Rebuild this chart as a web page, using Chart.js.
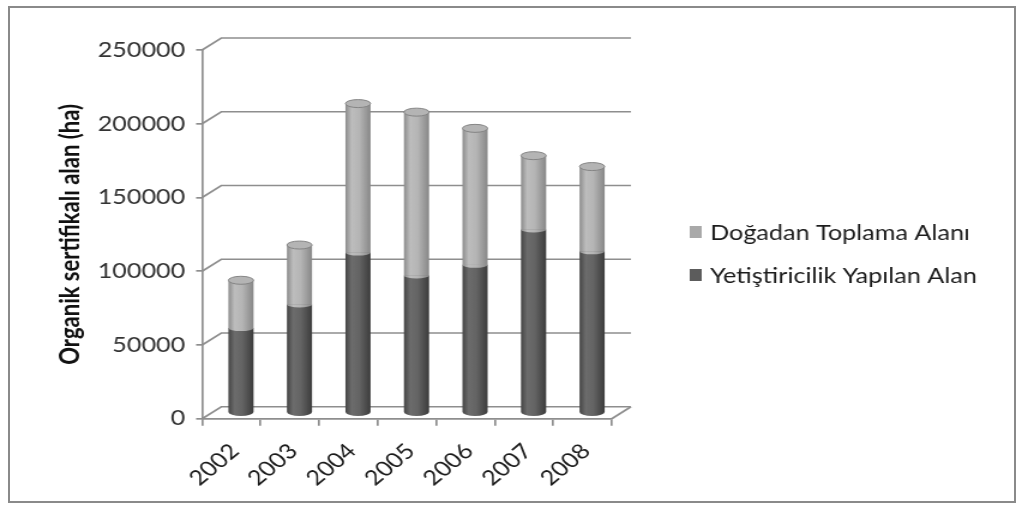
<!DOCTYPE html>
<html>
<head>
<meta charset="utf-8">
<script src="https://cdn.jsdelivr.net/npm/chart.js@4.4.1/dist/chart.umd.min.js"></script>
<style>
  html, body { margin: 0; padding: 0; background: #fff; }
  #wrap { position: relative; width: 1022px; height: 508px; overflow: hidden; }
  /* the chart is laid out narrower and stretched sideways to the page width */
  #chart { position: absolute; left: 0; top: 0; transform: scaleX(1.1995); transform-origin: 0 0; }
  #frame { position: absolute; left: 8px; top: 6px; width: 1004px; height: 493px; border: 2.5px solid #8a8a8a; }
</style>
</head>
<body>
<div id="wrap">
  <canvas id="chart" width="852" height="508"></canvas>
  <div id="frame"></div>
</div>
<script>
const years = ['2002', '2003', '2004', '2005', '2006', '2007', '2008'];
// Yetiştiricilik Yapılan Alan (ha)
const cultivated = [57400, 73400, 108600, 93100, 100300, 124300, 109400];
// Doğadan Toplama Alanı (ha)
const wildCollection = [32400, 40300, 101000, 110700, 92500, 50000, 57500];
const yTicks = [0, 50000, 100000, 150000, 200000, 250000];
const seriesNames = ['Yetiştiricilik Yapılan Alan', 'Doğadan Toplama Alanı'];
const axisTitle = 'Organik sertifikalı alan (ha)';

const DEPTH_X = 16;
const DEPTH_Y = -12;
const BAR_PCT = 0.43;
const GRID = '#8e8e8e';

const darkStops = [[0, '#454545'], [0.25, '#6c6c6c'], [0.55, '#646464'], [1, '#3c3c3c']];
const lightStops = [[0, '#8c8c8c'], [0.25, '#bdbdbd'], [0.55, '#b5b5b5'], [1, '#878787']];
const swatches = ['#5c5c5c', '#a9a9a9'];

function cylinderFill(ctx, cx, w, stops) {
    const g = ctx.createLinearGradient(cx - w / 2, 0, cx + w / 2, 0);
    stops.forEach(([o, c]) => g.addColorStop(o, c));
    return g;
}

function barFill(c, stops) {
    const chart = c.chart;
    const x = chart.scales.x;
    if (!x || !chart.chartArea || c.type !== 'data') return stops[1][1];
    const w = (chart.chartArea.right - chart.chartArea.left) / years.length * BAR_PCT;
    return cylinderFill(chart.ctx, x.getPixelForValue(c.dataIndex), w, stops);
}

function halfEllipse(ctx, x, y, rx, ry, fill) {
    ctx.beginPath();
    ctx.ellipse(x, y, rx, ry, 0, 0, Math.PI);
    ctx.closePath();
    ctx.fillStyle = fill;
    ctx.fill();
}

// back wall, floor edge and the cylinder ends
const wall3d = {
    id: 'wall3d',
    beforeDatasetsDraw(chart) {
        const { ctx, chartArea: a, scales: { y } } = chart;
        ctx.save();
        ctx.strokeStyle = GRID;
        ctx.lineWidth = 1.7;
        yTicks.forEach(v => {
            const py = y.getPixelForValue(v);
            ctx.beginPath();
            ctx.moveTo(a.left, py);
            ctx.lineTo(a.left + DEPTH_X, py + DEPTH_Y);
            ctx.lineTo(a.right + DEPTH_X, py + DEPTH_Y);
            ctx.stroke();
        });
        ctx.beginPath();
        ctx.moveTo(a.right, a.bottom);
        ctx.lineTo(a.right + DEPTH_X, a.bottom + DEPTH_Y);
        ctx.stroke();
        // bars stand half way into the depth
        ctx.translate(DEPTH_X / 2, DEPTH_Y / 2);
    },
    afterDatasetsDraw(chart) {
        const ctx = chart.ctx;
        const low = chart.getDatasetMeta(0).data;
        const high = chart.getDatasetMeta(1).data;
        low.forEach((el, i) => {
            const top = high[i];
            const rx = el.width / 2;
            halfEllipse(ctx, el.x, el.base, rx, 4, cylinderFill(ctx, el.x, el.width, darkStops));
            halfEllipse(ctx, el.x, el.y, rx, 3, cylinderFill(ctx, el.x, el.width, lightStops));
            ctx.beginPath();
            ctx.ellipse(top.x, top.y, rx, 4, 0, 0, Math.PI * 2);
            ctx.fillStyle = '#b4b4b4';
            ctx.fill();
            ctx.strokeStyle = '#858585';
            ctx.lineWidth = 1;
            ctx.stroke();
        });
        ctx.restore();
    }
};

// legend on the right, top entry is the upper stack
const sideLegend = {
    id: 'sideLegend',
    afterDraw(chart) {
        const ctx = chart.ctx;
        const rows = [232, 275];
        ctx.save();
        ctx.font = '21px Lato';
        ctx.textBaseline = 'middle';
        chart.data.datasets.slice().reverse().forEach((ds, k) => {
            const idx = chart.data.datasets.length - 1 - k;
            ctx.fillStyle = swatches[idx];
            ctx.fillRect(575, rows[k] - 6, 10, 12);
            ctx.fillStyle = '#1c1c1c';
            ctx.fillText(ds.label, 592, rows[k] + 1);
        });
        ctx.restore();
    }
};

function draw() {
    Chart.defaults.font.family = 'Lato';
    Chart.defaults.font.size = 21;
    new Chart(document.getElementById('chart'), {
        type: 'bar',
        data: {
            labels: years,
            datasets: [
                {
                    label: seriesNames[0],
                    data: cultivated,
                    backgroundColor: c => barFill(c, darkStops),
                    borderWidth: 0,
                    clip: false
                },
                {
                    label: seriesNames[1],
                    data: wildCollection,
                    backgroundColor: c => barFill(c, lightStops),
                    borderWidth: 0,
                    clip: false
                }
            ]
        },
        options: {
            responsive: false,
            animation: false,
            devicePixelRatio: 1,
            barPercentage: BAR_PCT,
            categoryPercentage: 1,
            layout: { padding: { left: 40, right: 342, top: 50, bottom: 4 } },
            plugins: {
                legend: { display: false },
                tooltip: { enabled: false }
            },
            scales: {
                x: {
                    stacked: true,
                    grid: { drawOnChartArea: false, tickLength: 7, color: GRID, lineWidth: 1.7 },
                    border: { color: GRID, width: 1.7 },
                    ticks: { minRotation: 45, maxRotation: 45, padding: 13, labelOffset: 3, color: '#1c1c1c' }
                },
                y: {
                    stacked: true,
                    min: 0,
                    max: 250000,
                    afterBuildTicks: s => { s.ticks = yTicks.map(v => ({ value: v })); },
                    grid: { drawOnChartArea: false, tickLength: 5, color: GRID, lineWidth: 1.7 },
                    border: { color: GRID, width: 1.7 },
                    ticks: { padding: 9, color: '#333333', callback: v => String(v) },
                    title: {
                        display: true,
                        text: axisTitle,
                        color: '#111111',
                        font: { weight: 'bold', size: 22 },
                        padding: { top: 6, bottom: 0 }
                    }
                }
            }
        },
        plugins: [wall3d, sideLegend]
    });
}

document.fonts.load('21px Lato').then(draw, draw);
</script>
</body>
</html>
